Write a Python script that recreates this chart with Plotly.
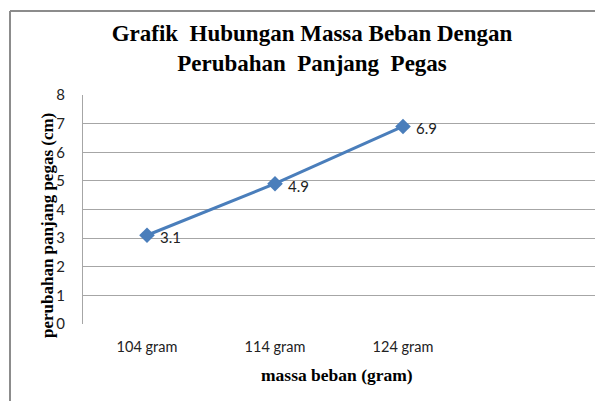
import plotly.graph_objects as go

categories = ["104 gram", "114 gram", "124 gram"]
values = [3.1, 4.9, 6.9]
y_ticks = [0, 1, 2, 3, 4, 5, 6, 7, 8]

W, H = 603, 401
OFF = 8  # page body margin offset
# plot area in screen pixels: left 83, right 595, top 95, bottom 324
L = 83 - OFF
T = 95 - OFF
R = W - (595 - OFF)
B = H - (324 - OFF)
pw = W - L - R
ph = H - T - B

SERIF = "Liberation Serif"
SANS = "Lato"

x_idx = list(range(len(categories)))

fig = go.Figure()
fig.add_trace(go.Scatter(
    x=x_idx, y=values, mode="lines+markers",
    line=dict(color="#4A7EBB", width=3),
    marker=dict(symbol="diamond", size=12, color="#4A7EBB"),
    showlegend=False, hoverinfo="skip",
))

annotations = []
for xi, v in zip(x_idx, values):
    annotations.append(dict(
        x=xi, y=v, xref="x", yref="y", text=f"{v}", showarrow=False,
        xanchor="left", yanchor="middle", xshift=11, yshift=-2,
        font=dict(family=SANS, size=15, color="#222"),
    ))

def px(sx):
    return (sx - OFF - L) / pw

def py(sy):
    return (H - B - (sy - OFF)) / ph

annotations.append(dict(
    x=px(47), y=py(226), xref="paper", yref="paper",
    text="<b>perubahan panjang pegas (cm)</b>", showarrow=False, textangle=-90,
    xanchor="center", yanchor="middle",
    font=dict(family=SERIF, size=17, color="#000"),
))
annotations.append(dict(
    x=px(337), y=py(375), xref="paper", yref="paper",
    text="<b>massa beban (gram)</b>", showarrow=False,
    xanchor="center", yanchor="middle",
    font=dict(family=SERIF, size=17.5, color="#000"),
))

border = dict(color="#8C8C8C", width=2)
top_y = 11

fig.update_layout(
    template="none",
    width=W, height=H,
    margin=dict(l=L, r=R, t=T, b=B, autoexpand=False),
    paper_bgcolor="white", plot_bgcolor="white",
    showlegend=False,
    title=dict(
        text="<b>Grafik  Hubungan Massa Beban Dengan<br>Perubahan  Panjang  Pegas</b>",
        x=(312 - OFF) / W, xanchor="center", y=1 - 33 / H, yanchor="middle",
        font=dict(family=SERIF, size=23, color="#000"),
    ),
    xaxis=dict(
        range=[-0.5, 3.5], tickvals=x_idx, ticktext=categories,
        showgrid=False, zeroline=False, showline=False, ticks="",
        automargin=False, ticklabelstandoff=12,
        tickfont=dict(family=SANS, size=14.5, color="#222"),
        fixedrange=True,
    ),
    yaxis=dict(
        range=[0, 8], tickvals=y_ticks, showgrid=True, gridcolor="#A6A6A6", gridwidth=1,
        zeroline=False, showline=True, linecolor="#A6A6A6", linewidth=1, ticks="",
        automargin=False, ticklabelstandoff=14,
        tickfont=dict(family=SANS, size=15, color="#222"),
        fixedrange=True,
    ),
    annotations=annotations,
    shapes=[
        dict(type="line", xref="paper", yref="paper",
             x0=px(10), x1=px(603), y0=py(top_y), y1=py(top_y),
             line=border, layer="above"),
        dict(type="line", xref="paper", yref="paper",
             x0=px(10), x1=px(10), y0=py(top_y), y1=py(401),
             line=border, layer="above"),
    ],
)

fig.write_html("out.html")
